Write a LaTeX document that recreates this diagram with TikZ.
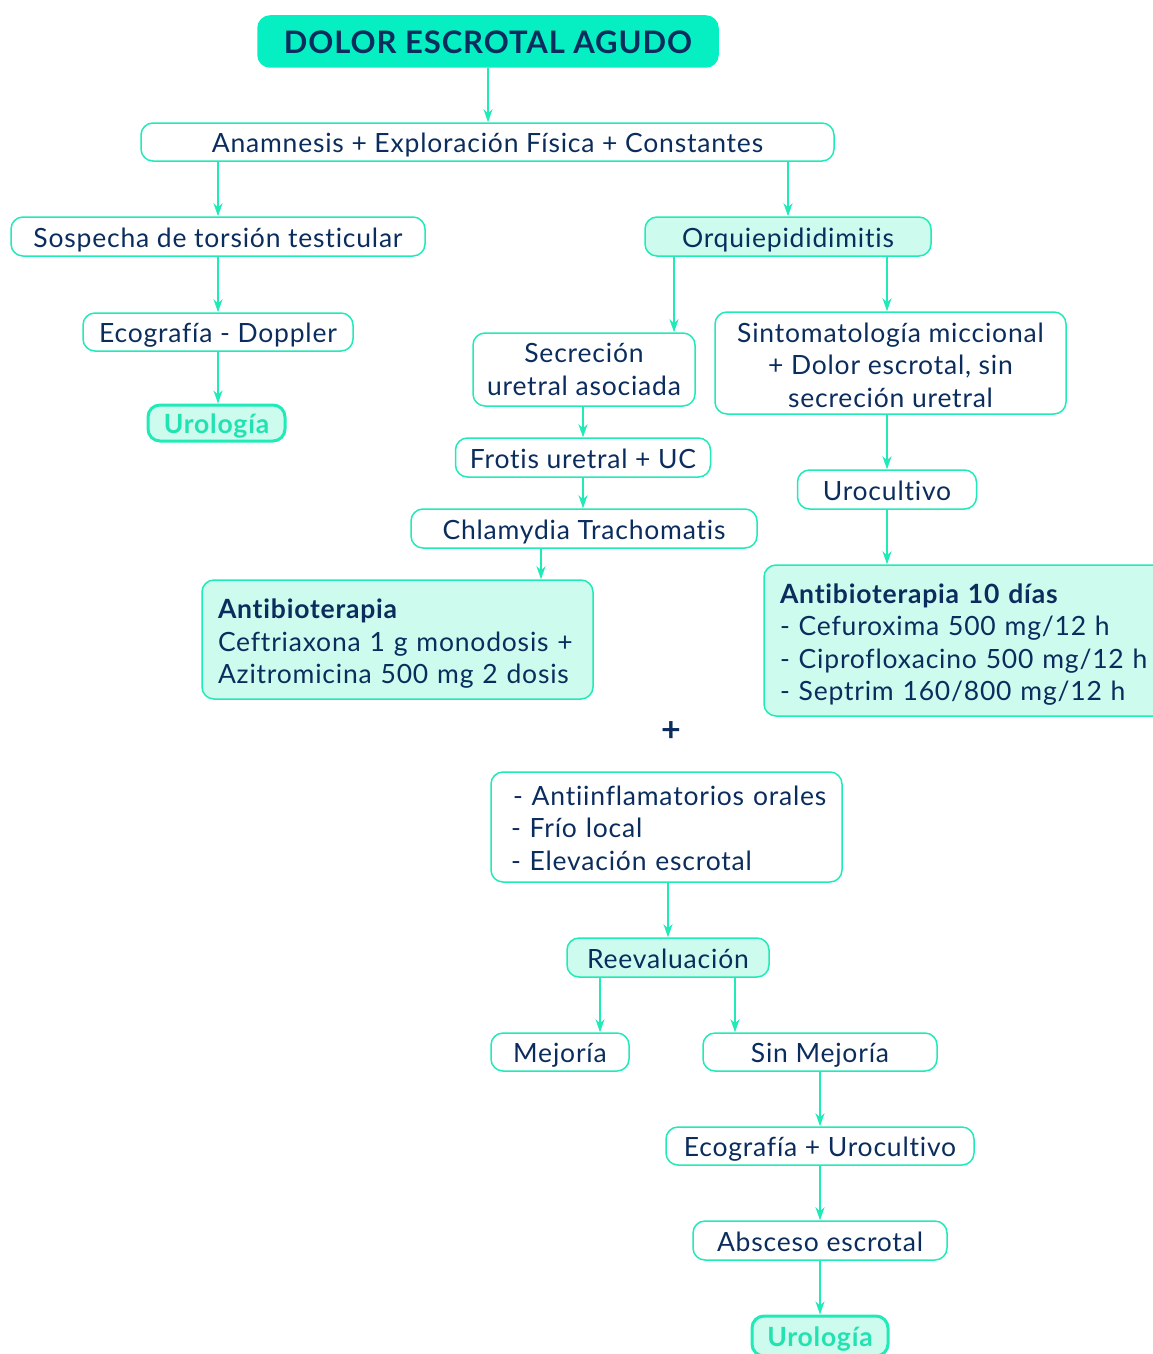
\documentclass[tikz,border=0pt]{standalone}
\usepackage{fontspec}
\setmainfont{Lato}[LetterSpace=3, Ligatures={NoCommon}]
\usetikzlibrary{arrows.meta,calc}
\definecolor{mint}{HTML}{1FEAB8}
\definecolor{mintfill}{HTML}{CDFBEE}
\definecolor{titlefill}{HTML}{05EFC2}
\definecolor{navy}{HTML}{0B2D5E}
\definecolor{urotext}{HTML}{22E2B2}
\begin{document}
\begin{tikzpicture}[x=1pt,y=-1pt,
 box/.style={draw=mint, line width=1.5pt, rounded corners=12pt, text=navy,
   font=\fontsize{26.5}{32.3}\selectfont, inner sep=0pt, align=center},
 one/.style={text height=21.5pt, text depth=0pt},
 filled/.style={fill=mintfill},
 sz/.style 2 args={minimum width=#1pt, minimum height=#2pt},
 urobox/.style={box, one, filled, line width=3pt, text=urotext, font=\fontsize{26.5}{32}\selectfont\bfseries},
 arr/.style={draw=mint, line width=1.5pt, -{Stealth[length=13pt,width=9pt,inset=4pt]}}]
\useasboundingbox (0,0) rectangle (1152,1354);
% nodes
\node[box, one, fill=titlefill, draw=titlefill, sz={460}{51}, text height=25pt, font=\fontsize{31}{36}\selectfont\bfseries] (title) at (488,41.5) {DOLOR ESCROTAL AGUDO};
\node[box, one, sz={693}{38}] (anam) at (487.5,142) {Anamnesis + Exploración Física + Constantes};
\node[box, one, sz={414}{39}] (sosp) at (218,236.5) {Sospecha de torsión testicular};
\node[box, one, filled, sz={286}{39}] (orq) at (788,236.5) {Orquiepididimitis};
\node[box, one, sz={270}{38}] (eco) at (218,332) {Ecografía - Doppler};
\node[urobox, sz={137}{36}] (uro1) at (216.5,423) {Urología};
\node[box, sz={222}{73}] (sec) at (584,369.5) {Secreción\\uretral asociada};
\node[box, sz={351}{102}] (sint) at (890.5,363) {\rule{0pt}{24pt}Sintomatología miccional\\+ Dolor escrotal, sin\\secreción uretral};
\node[box, one, sz={255}{39}] (frot) at (583,457.5) {Frotis uretral + UC};
\node[box, one, sz={346}{39}] (chl) at (584,528.5) {Chlamydia Trachomatis};
\node[box, filled, sz={391}{119}, text width=359pt, align=left] (anl) at (397.5,639.5)
  {\rule{0pt}{28pt}\textbf{Antibioterapia}\\Ceftriaxona 1 g monodosis +\\Azitromicina 500 mg 2 dosis};
\node[box, sz={179}{39}, one] (urc) at (887,489.5) {Urocultivo};
\node[box, filled, sz={401}{151}, text width=369pt, align=left] (anr) at (964.5,640.5)
  {\rule{0pt}{28pt}\textbf{Antibioterapia 10 días}\\- Cefuroxima 500 mg/12 h\\- Ciprofloxacino 500 mg/12 h\\- Septrim 160/800 mg/12 h};
\node[text=navy, font=\fontsize{34}{36}\selectfont\bfseries, inner sep=0pt] (plus) at (671,732) {+};
\node[box, sz={351}{110}, text width=311pt, align=left] (anti) at (666.5,827)
  {\rule{0pt}{22pt}\mbox{\hspace{2pt}- Antiinflamatorios orales}\\- Frío local\\- Elevación escrotal};
\node[box, one, filled, sz={202}{39}] (reev) at (668,957.5) {Reevaluación};
\node[box, one, sz={138}{38}] (mej) at (560,1052) {Mejoría};
\node[box, one, sz={234}{38}] (sin) at (820,1052) {Sin Mejoría};
\node[box, one, sz={308}{38}] (ecu) at (820,1146) {Ecografía + Urocultivo};
\node[box, one, sz={254}{39}] (abs) at (820,1240.5) {Absceso escrotal};
\node[urobox, sz={136}{40}] (uro2) at (820,1336) {Urología};
\coordinate (cx887) at (887,0);
% connectors
\draw[arr] (title.south) -- (title.south |- anam.north);
\draw[arr] (anam.south -| sosp.north) -- (sosp.north);
\draw[arr] (anam.south -| orq.north) -- (orq.north);
\draw[arr] (sosp.south) -- (eco.north);
\draw[arr] (eco.south) -- (eco.south |- uro1.north);
\draw[arr] ([xshift=-114pt]orq.south) -- ([xshift=-114pt]orq.south |- sec.north);
\draw[arr] (orq.south -| cx887) -- (cx887 |- sint.north);
\draw[arr] (sec.south -| frot.north) -- (frot.north);
\draw[arr] (frot.south) -- (frot.south |- chl.north);
\draw[arr] ([xshift=-43pt]chl.south) -- ([xshift=-43pt]chl.south |- anl.north);
\draw[arr] (sint.south -| urc.north) -- (urc.north);
\draw[arr] (urc.south) -- (urc.south |- anr.north);
\draw[arr] (anti.south -| reev.north) -- (reev.north);
\draw[arr] ([xshift=-68pt]reev.south) -- ([xshift=-68pt]reev.south |- mej.north);
\draw[arr] ([xshift=67pt]reev.south) -- ([xshift=67pt]reev.south |- sin.north);
\draw[arr] (sin.south) -- (ecu.north);
\draw[arr] (ecu.south) -- (abs.north);
\draw[arr] (abs.south) -- (uro2.north);
\end{tikzpicture}
\end{document}
